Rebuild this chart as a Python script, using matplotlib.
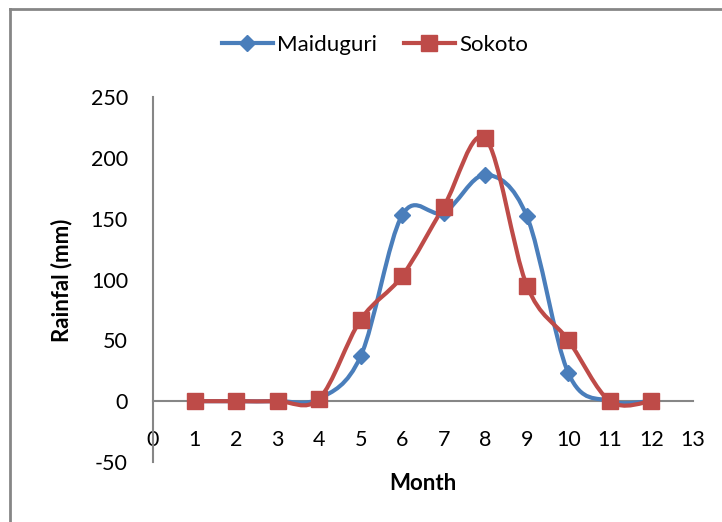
import numpy as np
import matplotlib
matplotlib.use('Agg')
import matplotlib.pyplot as plt
from matplotlib.path import Path
from matplotlib.patches import PathPatch
from matplotlib.lines import Line2D

plt.rcParams['font.family'] = ['Lato', 'DejaVu Sans']
plt.rcParams['axes.unicode_minus'] = False

months = [1, 2, 3, 4, 5, 6, 7, 8, 9, 10, 11, 12]
maiduguri = [0, 0, 0, 2, 37, 153, 155, 186, 152, 23, 0, 0]
sokoto = [0, 0, 0, 2, 67, 103, 160, 216, 95, 50, 0, 0]

x_ticks = list(range(0, 14))
y_ticks = [-50, 0, 50, 100, 150, 200, 250]

blue = '#4A7EBB'
red = '#BE4B48'


def smooth_path(xs, ys):
    # courbe lissée façon Excel: Bézier cubique avec tangentes de type Catmull-Rom
    pts = np.column_stack([xs, ys]).astype(float)
    n = len(pts)
    verts = [pts[0]]
    codes = [Path.MOVETO]
    for i in range(n - 1):
        p0 = pts[max(i - 1, 0)]
        p1 = pts[i]
        p2 = pts[i + 1]
        p3 = pts[min(i + 2, n - 1)]
        verts += [p1 + (p2 - p0) / 6, p2 - (p3 - p1) / 6, p2]
        codes += [Path.CURVE4] * 3
    return Path(verts, codes)


fig = plt.figure(figsize=(7.22, 5.22), dpi=100)
W, H = 722, 522
ax = fig.add_axes([153 / W, 1 - 462 / H, (693 - 153) / W, (462 - 97) / H])

for vals, col, mk, ms in [(maiduguri, blue, 'D', 8.5), (sokoto, red, 's', 11.5)]:
    ax.add_patch(PathPatch(smooth_path(months, vals), fill=False, edgecolor=col,
                           lw=3, capstyle='round', joinstyle='round', zorder=3))
    ax.plot(months, vals, linestyle='none', marker=mk, ms=ms, color=col,
            markeredgecolor=col, zorder=4)

ax.set_xlim(0, 13)
ax.set_ylim(-50, 250)
ax.set_xticks(x_ticks)
ax.set_yticks(y_ticks)
ax.spines['top'].set_visible(False)
ax.spines['right'].set_visible(False)
ax.spines['bottom'].set_position(('data', 0))
ax.spines['bottom'].set_color('#868686')
ax.spines['left'].set_color('#868686')
ax.spines['bottom'].set_linewidth(1.5)
ax.spines['left'].set_linewidth(1.5)
ax.tick_params(axis='x', length=0, pad=21, labelsize=15.5)
ax.tick_params(axis='y', length=0, pad=18, labelsize=15.5)

fig.text(62 / W, 1 - 280 / H, 'Rainfal (mm)', rotation=90, ha='center', va='center',
         fontsize=16, fontweight='bold')
fig.text(423 / W, 1 - 483 / H, 'Month', ha='center', va='center',
         fontsize=16, fontweight='bold')

handles = [Line2D([], [], color=blue, lw=3, marker='D', ms=8.5),
           Line2D([], [], color=red, lw=3, marker='s', ms=11.5)]
fig.legend(handles, ['Maiduguri', 'Sokoto'], loc='center', bbox_to_anchor=(375 / W, 1 - 45 / H),
           ncol=2, frameon=False, fontsize=16, handlelength=2.3, handletextpad=0.2,
           columnspacing=1.2)

# cadre gris autour du graphique
fig.add_artist(Line2D([10 / W, 1], [1 - 9 / H, 1 - 9 / H], color='#868686', lw=2))
fig.add_artist(Line2D([10 / W, 10 / W], [0, 1 - 9 / H], color='#868686', lw=2))

fig.savefig('out.png', dpi=100)
